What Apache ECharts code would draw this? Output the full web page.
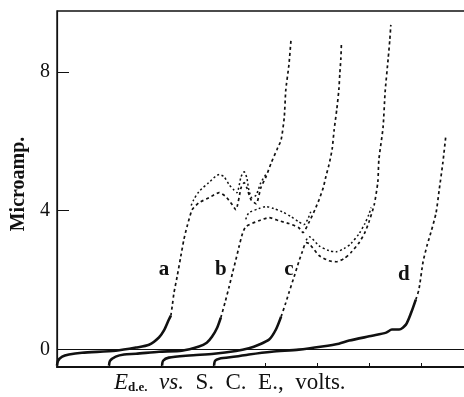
<!DOCTYPE html>
<html>
<head>
<meta charset="utf-8">
<script src="https://cdn.jsdelivr.net/npm/echarts@6/dist/echarts.min.js"></script>
<style>
  html, body { margin: 0; padding: 0; background: #fff; }
  #chart { width: 464px; height: 397px; }
</style>
</head>
<body>
<div id="chart"></div>
<script>
// Polarograms a–d: current (µA) against potential of the dropping electrode.
// Each wave: a heavy low-current foot, then the rising/plateau trace, plus the
// upper envelope of the drop oscillations on the plateau.

const aBase = [[0,-0.46],[0.002,-0.32],[0.01,-0.2],[0.023,-0.14],[0.048,-0.09],[0.113,-0.03],[0.152,0.06],[0.177,0.14],[0.196,0.35],[0.206,0.56],[0.215,0.86],[0.219,0.98]];
const aRise = [[0.219,0.98],[0.222,1.3],[0.225,1.64],[0.231,2.1],[0.238,2.68],[0.244,3.17],[0.25,3.54],[0.26,4.03],[0.273,4.23],[0.292,4.37],[0.312,4.52],[0.325,4.4],[0.337,4.17],[0.344,4.03],[0.354,4.66],[0.36,4.81],[0.365,4.66],[0.373,4.32],[0.383,4.2],[0.392,4.66],[0.402,4.98],[0.412,5.38],[0.423,5.76],[0.431,6.04],[0.437,6.68],[0.44,7.48],[0.446,8.2],[0.45,8.92]];
const aUpper = [[0.258,4.15],[0.263,4.32],[0.273,4.55],[0.292,4.81],[0.312,5.04],[0.321,4.98],[0.331,4.75],[0.34,4.6],[0.346,4.52],[0.354,4.98],[0.36,5.12],[0.365,4.95],[0.369,4.6],[0.375,4.37],[0.383,4.45],[0.392,4.81],[0.402,5.05]];

const bBase = [[0.1,-0.46],[0.102,-0.32],[0.113,-0.2],[0.129,-0.14],[0.152,-0.12],[0.196,-0.06],[0.24,-0.03],[0.273,0.09],[0.288,0.2],[0.298,0.37],[0.308,0.63],[0.315,0.92]];
const bRise = [[0.315,0.92],[0.323,1.35],[0.331,1.81],[0.338,2.24],[0.344,2.59],[0.35,2.96],[0.356,3.31],[0.363,3.54],[0.388,3.71],[0.408,3.8],[0.427,3.71],[0.446,3.63],[0.465,3.51],[0.473,3.37],[0.485,3.68],[0.496,4.03],[0.504,4.32],[0.512,4.66],[0.517,4.98],[0.523,5.32],[0.529,5.76],[0.533,6.33],[0.538,6.91],[0.542,7.48],[0.544,7.97],[0.546,8.4],[0.547,8.86]];
const bUpper = [[0.363,3.75],[0.369,3.94],[0.388,4.06],[0.402,4.12],[0.417,4.06],[0.433,3.97],[0.45,3.83],[0.465,3.68],[0.475,3.6],[0.482,3.75],[0.488,3.97]];

const cBase = [[0.202,-0.46],[0.204,-0.32],[0.215,-0.23],[0.254,-0.17],[0.302,-0.12],[0.344,-0.04],[0.369,0.04],[0.388,0.14],[0.408,0.29],[0.421,0.58],[0.431,0.95]];
const cRise = [[0.431,0.95],[0.44,1.35],[0.446,1.64],[0.456,2.1],[0.465,2.53],[0.471,2.79],[0.479,3.08],[0.485,3.05],[0.504,2.71],[0.523,2.56],[0.537,2.53],[0.552,2.62],[0.565,2.79],[0.581,3.08],[0.592,3.37],[0.6,3.68],[0.61,4.17],[0.617,4.83],[0.619,5.47],[0.627,6.39],[0.631,7.42],[0.637,8.4],[0.64,8.92],[0.642,9.35]];
const cUpper = [[0.479,3.15],[0.485,3.25],[0.504,2.99],[0.523,2.85],[0.537,2.82],[0.552,2.91],[0.565,3.05],[0.581,3.34],[0.592,3.63],[0.6,3.9],[0.604,4.09]];

const dBase = [[0.302,-0.46],[0.304,-0.32],[0.312,-0.26],[0.344,-0.2],[0.369,-0.14],[0.413,-0.06],[0.465,0],[0.51,0.09],[0.542,0.17],[0.562,0.26],[0.606,0.4],[0.633,0.49],[0.644,0.58],[0.658,0.58],[0.671,0.72],[0.681,1.06],[0.69,1.44]];
const dRise = [[0.69,1.44],[0.696,1.73],[0.704,2.53],[0.712,3.02],[0.719,3.37],[0.729,3.94],[0.735,4.6],[0.742,5.38],[0.748,6.19]];

const curveNames = ['a', 'b', 'c', 'd'];
const curveLabelAt = [[0.206, 2.3], [0.315, 2.3], [0.446, 2.3], [0.667, 2.16]];

const yTickValues = [0, 4, 8];
const xTickValues = [0.1, 0.2, 0.3, 0.4, 0.5, 0.6, 0.7];

const SERIF = '"Liberation Serif", "DejaVu Serif", serif';
const INK = '#111';

const chart = echarts.init(document.getElementById('chart'), null, { renderer: 'canvas' });

function base(data) {
  return {
    type: 'line', data: data, showSymbol: false, smooth: 0.25, silent: true,
    lineStyle: { color: INK, width: 2.6 }, z: 3
  };
}
function rise(data) {
  return {
    type: 'line', data: data, showSymbol: false, smooth: 0.2, silent: true,
    lineStyle: { color: INK, width: 1.7, type: [3, 3] }, z: 3
  };
}
function upper(data) {
  return {
    type: 'line', data: data, showSymbol: false, smooth: 0.25, silent: true,
    lineStyle: { color: INK, width: 1.5, type: [2, 2.5] }, z: 3
  };
}

const big = { fontFamily: SERIF, fontSize: 23, fill: INK, verticalAlign: 'bottom', lineHeight: 26 };

chart.setOption({
  animation: false,
  backgroundColor: '#fff',
  grid: {
    left: 57, top: 11, right: -9, bottom: 30,
    outerBoundsMode: 'none', containLabel: false,
    show: true, borderColor: INK, borderWidth: 1.4, backgroundColor: 'transparent'
  },
  xAxis: {
    type: 'value', min: 0, max: 0.8,
    axisLine: { show: true, onZero: false, lineStyle: { color: INK, width: 2 } },
    axisTick: { show: true, inside: true, length: 4, customValues: xTickValues, lineStyle: { color: INK, width: 1 } },
    axisLabel: { show: false },
    splitLine: { show: false }
  },
  yAxis: {
    type: 'value', min: -0.5, max: 9.75,
    name: 'Microamp.', nameLocation: 'middle', nameGap: 21,
    nameTextStyle: { fontFamily: SERIF, fontWeight: 'bold', fontSize: 20, color: INK, padding: [0, 0, 0, 10] },
    axisLine: { show: true, lineStyle: { color: INK, width: 1.2 } },
    axisTick: { show: true, inside: true, length: 12, customValues: yTickValues, lineStyle: { color: INK, width: 1 } },
    axisLabel: { show: true, customValues: yTickValues, margin: 7, fontFamily: SERIF, fontSize: 20, color: INK },
    splitLine: { show: false }
  },
  graphic: [{
    type: 'text', left: 114, top: 371, silent: true,
    style: {
      text: '{e|E}{s|d.e.}{g|  }{i|vs.}{g|  }{r|S.  C.  E.,  volts.}',
      rich: {
        e: Object.assign({}, big, { fontStyle: 'italic' }),
        s: { fontFamily: SERIF, fontWeight: 'bold', fontSize: 13, fill: INK, verticalAlign: 'bottom', lineHeight: 22 },
        g: big,
        i: Object.assign({}, big, { fontStyle: 'italic' }),
        r: big
      }
    }
  }],
  series: [
    {
      type: 'line', data: [], silent: true,
      markLine: {
        silent: true, symbol: ['none', 'none'], label: { show: false },
        lineStyle: { color: INK, width: 1.1, type: 'solid' },
        data: [{ yAxis: 0 }]
      }
    },
    base(aBase), rise(aRise), upper(aUpper),
    base(bBase), rise(bRise), upper(bUpper),
    base(cBase), rise(cRise), upper(cUpper),
    base(dBase), rise(dRise),
    {
      type: 'scatter', symbolSize: 0, silent: true, z: 5,
      itemStyle: { opacity: 1 },
      data: curveLabelAt.map((p, i) => ({ value: p, name: curveNames[i] })),
      label: {
        show: true, position: 'inside', formatter: (p) => p.name,
        fontFamily: SERIF, fontWeight: 'bold', fontSize: 21, color: INK, opacity: 1
      }
    }
  ]
});
</script>
</body>
</html>
